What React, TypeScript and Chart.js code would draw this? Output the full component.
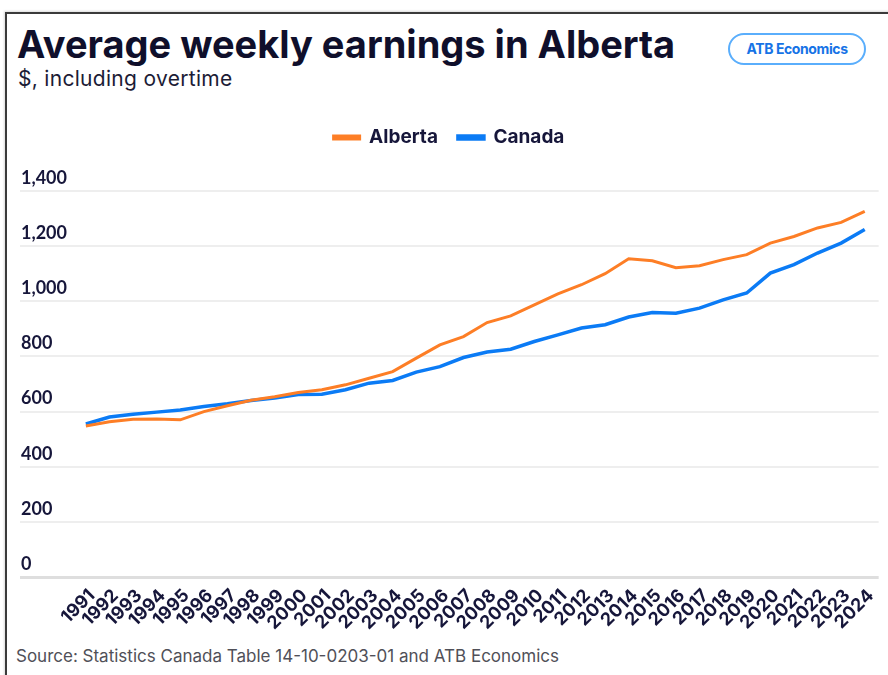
import React, { useEffect, useRef } from "react";
import { Chart, registerables } from "chart.js";

Chart.register(...registerables);

const years = [
  1991, 1992, 1993, 1994, 1995, 1996, 1997, 1998, 1999, 2000, 2001, 2002,
  2003, 2004, 2005, 2006, 2007, 2008, 2009, 2010, 2011, 2012, 2013, 2014,
  2015, 2016, 2017, 2018, 2019, 2020, 2021, 2022, 2023, 2024,
];

const alberta = [
  548, 563, 572, 573, 570, 600, 621, 641, 654, 669, 679, 697, 721, 745, 794,
  842, 872, 923, 947, 987, 1027, 1060, 1100, 1154, 1147, 1122, 1129, 1151,
  1169, 1211, 1235, 1266, 1286, 1326,
];

const canada = [
  555, 580, 590, 598, 606, 618, 628, 640, 649, 662, 663, 679, 703, 713, 743,
  763, 796, 816, 826, 854, 878, 903, 915, 943, 959, 957, 975, 1005, 1030,
  1102, 1133, 1175, 1211, 1260,
];

const yTicks = [0, 200, 400, 600, 800, 1000, 1200, 1400];

const ORANGE = "#fd7e26";
const BLUE = "#0b7bf5";
const NAVY = "#16163a";
const FONT = "Inter, 'Open Sans', sans-serif";
const FONT_Y = "Lato, 'Open Sans', sans-serif";

const legendGap = {
  id: "legendGap",
  beforeInit(chart: any) {
    const legend = chart.legend;
    if (!legend) return;
    const origFit = legend.fit;
    legend.fit = function () {
      origFit.call(this);
      this.height += 34;
    };
  },
};

export default function App() {
  const canvasRef = useRef<HTMLCanvasElement | null>(null);

  useEffect(() => {
    document.body.style.margin = "0";
    const ctx = canvasRef.current!;
    const chart = new Chart(ctx, {
      type: "line",
      data: {
        datasets: [
          {
            label: "Alberta",
            data: years.map((y, i) => ({ x: y, y: alberta[i] })),
            borderColor: ORANGE,
            backgroundColor: ORANGE,
            borderWidth: 3,
            pointRadius: 0,
            tension: 0,
          },
          {
            label: "Canada",
            data: years.map((y, i) => ({ x: y, y: canada[i] })),
            borderColor: BLUE,
            backgroundColor: BLUE,
            borderWidth: 3.5,
            pointRadius: 0,
            tension: 0,
          },
        ],
      },
      plugins: [legendGap],
      options: {
        responsive: true,
        maintainAspectRatio: false,
        animation: false,
        layout: { padding: 0 },
        plugins: {
          tooltip: { enabled: false },
          legend: {
            position: "top",
            align: "center",
            labels: {
              boxWidth: 26,
              boxHeight: 3,
              color: NAVY,
              padding: 20,
              font: { family: FONT, size: 19, weight: "bold" },
            },
          },
        },
        scales: {
          x: {
            type: "linear",
            min: 1988.21,
            max: 2024.59,
            grid: { display: false },
            border: { display: false },
            afterBuildTicks: (axis: any) => {
              axis.ticks = years.map((v) => ({ value: v }));
            },
            afterFit: (axis: any) => {
              axis.height = 58;
            },
            ticks: {
              autoSkip: false,
              maxRotation: 45,
              minRotation: 45,
              padding: 0,
              labelOffset: 6,
              color: NAVY,
              font: { family: FONT, size: 18, weight: "bold" },
              callback: (v: any) => String(v),
            },
          },
          y: {
            min: 0,
            max: 1400,
            afterBuildTicks: (axis: any) => {
              axis.ticks = yTicks.map((v) => ({ value: v }));
            },
            border: { display: false },
            grid: {
              color: (c: any) => (c.tick && c.tick.value === 0 ? "#dedede" : "#eeeeee"),
              lineWidth: (c: any) => (c.tick && c.tick.value === 0 ? 3 : 2),
              drawTicks: false,
            },
            ticks: {
              mirror: true,
              padding: 1,
              labelOffset: -13,
              color: NAVY,
              font: { family: FONT_Y, size: 18, weight: "bold" },
              callback: (v: any) => Number(v).toLocaleString("en-US"),
            },
          },
        },
      },
    } as any);
    return () => chart.destroy();
  }, []);

  return (
    <div
      style={{
        position: "absolute",
        left: 0,
        top: 0,
        width: 888,
        height: 675,
        overflow: "hidden",
        background: "#ffffff",
        fontFamily: FONT,
        color: NAVY,
      }}
    >
      <div
        style={{
          position: "absolute",
          left: 5,
          top: 12,
          width: 920,
          height: 720,
          borderLeft: "2px solid #3a3a3a",
          borderTop: "2px solid #3a3a3a",
          boxShadow: "-1px -1px 2px rgba(0,0,0,0.15)",
        }}
      />
      <div
        style={{
          position: "absolute",
          left: 17,
          top: 21,
          fontSize: 38,
          fontWeight: 700,
          lineHeight: "46px",
          whiteSpace: "nowrap",
          color: "#0f0f2b",
        }}
      >
        Average weekly earnings in Alberta
      </div>
      <div
        style={{
          position: "absolute",
          left: 18,
          top: 66,
          fontSize: 21,
          lineHeight: "25px",
          letterSpacing: "0.3px",
          whiteSpace: "nowrap",
          color: "#1c1c36",
        }}
      >
        $, including overtime
      </div>
      <div
        style={{
          position: "absolute",
          left: 728,
          top: 33,
          width: 134,
          height: 28,
          border: "2px solid #5aaefc",
          borderRadius: 16,
          color: "#1673e6",
          fontSize: 14,
          fontWeight: 700,
          lineHeight: "28px",
          textAlign: "center",
          letterSpacing: "-0.4px",
          whiteSpace: "nowrap",
        }}
      >
        ATB Economics
      </div>
      <div
        style={{
          position: "absolute",
          left: 18,
          top: 108,
          width: 862,
          height: 527,
        }}
      >
        <canvas ref={canvasRef} />
      </div>
      <div
        style={{
          position: "absolute",
          left: 16,
          top: 646,
          fontSize: 17,
          lineHeight: "21px",
          whiteSpace: "nowrap",
          color: "#505058",
        }}
      >
        Source: Statistics Canada Table 14-10-0203-01 and ATB Economics
      </div>
    </div>
  );
}
